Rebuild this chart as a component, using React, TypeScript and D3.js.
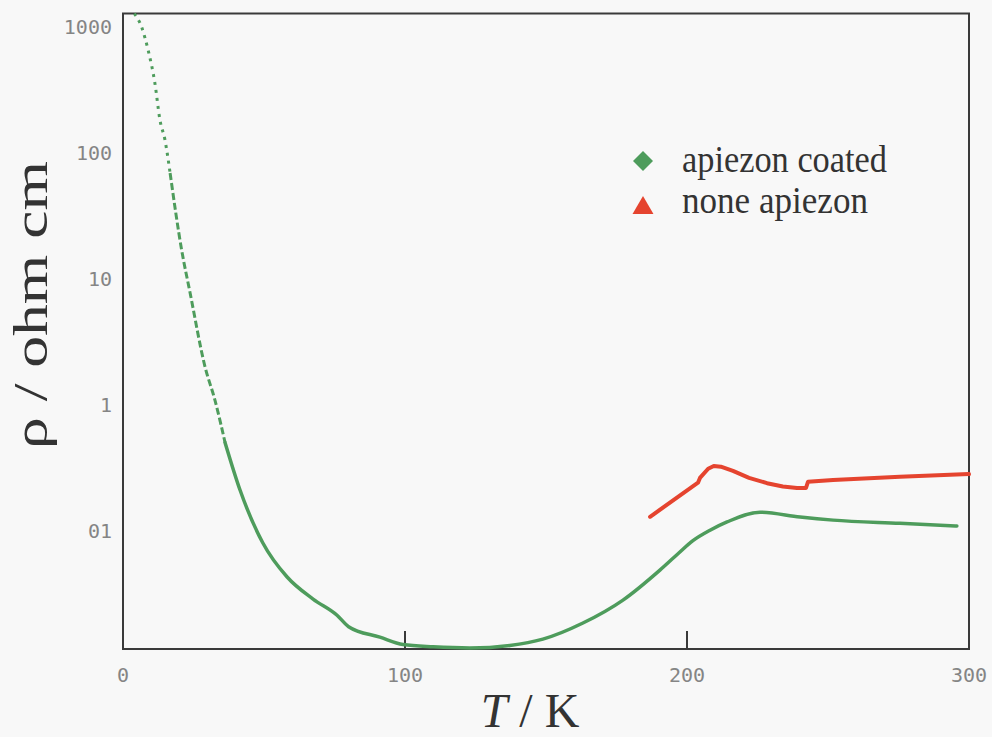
import React from "react";
import * as d3 from "d3";

const greenT = [4, 6.6, 8.9, 11.3, 13.1, 14.9, 16.7, 20.8, 23.8, 29.1, 32.6, 36.2, 41.5, 49.6, 58.2, 67.4, 75.9, 80, 91.1, 99.3, 110, 123, 137.2, 148.9, 163.1, 177.3, 190.4, 197, 202.1, 208, 214.2, 225.9, 240.1, 251.8, 275.5, 295.7];
const greenRho = [1290, 1009, 662, 362, 184, 127, 69.7, 17.0, 7.74, 2.0, 1.09, 0.5, 0.21, 0.0796, 0.0427, 0.0285, 0.0212, 0.0172, 0.0142, 0.0124, 0.0119, 0.01165, 0.0122, 0.0137, 0.0184, 0.028, 0.0485, 0.066, 0.083, 0.1, 0.117, 0.14, 0.128, 0.121, 0.1141, 0.1086];

const redT = [186.9, 203.9, 204.6, 207.5, 209.5, 212, 216.3, 222, 228.4, 234, 239, 242.2, 242.9, 251.8, 275.5, 300];
const redRho = [0.1287, 0.24, 0.262, 0.31, 0.326, 0.322, 0.298, 0.262, 0.238, 0.224, 0.218, 0.218, 0.244, 0.252, 0.268, 0.281];

const xTicks = [0, 100, 200, 300];
const yTicks = [1000, 100, 10, 1, 0.1];
const yTickLabels = ["1000", "100", "10", "1", "01"];
const legendLabels = ["apiezon coated", "none apiezon"];

const GREEN = "#4e9c5c";
const RED = "#e5442f";

export default function App() {
  const W = 992, H = 737;
  const left = 123, right = 969, top = 13.5, bottom = 649;
  const x = d3.scaleLinear().domain([0, 300]).range([left, right]);
  const y = d3.scaleLog().domain([0.01143, 1292]).range([bottom, top]);

  const smooth = d3
    .line<[number, number]>()
    .x((d) => x(d[0]))
    .y((d) => y(d[1]))
    .curve(d3.curveMonotoneX);
  const straight = d3
    .line<[number, number]>()
    .x((d) => x(d[0]))
    .y((d) => y(d[1]))
    .curve(d3.curveLinear);

  const g = greenT.map((t, i) => [t, greenRho[i]] as [number, number]);
  const r = redT.map((t, i) => [t, redRho[i]] as [number, number]);
  const gA = g.slice(0, 7);
  const gB = g.slice(6, 12);
  const gC = g.slice(11);

  return (
    <svg width={W} height={H} style={{ position: "absolute", left: 0, top: 0, background: "#f8f8f8" }}>
      <rect x={0} y={0} width={W} height={H} fill="#f8f8f8" />
      <rect x={left} y={top} width={right - left} height={bottom - top} fill="none" stroke="#3a3a3a" strokeWidth={2} />
      {xTicks.map((t) => (
        <g key={t}>
          <line x1={x(t)} x2={x(t)} y1={bottom} y2={bottom - 18} stroke="#3a3a3a" strokeWidth={2} />
          <text x={x(t)} y={682} textAnchor="middle" fontFamily="DejaVu Sans Mono" fontSize={20} fill="#858585">
            {t}
          </text>
        </g>
      ))}
      {yTicks.map((v, i) => (
        <text key={v} x={112} y={y(v) + 7} textAnchor="end" fontFamily="DejaVu Sans Mono" fontSize={20} fill="#858585">
          {yTickLabels[i]}
        </text>
      ))}
      <path d={smooth(gA) || ""} fill="none" stroke={GREEN} strokeWidth={3} strokeDasharray="3,5" />
      <path d={smooth(gB) || ""} fill="none" stroke={GREEN} strokeWidth={3} strokeDasharray="7,3" />
      <path d={smooth(gC) || ""} fill="none" stroke={GREEN} strokeWidth={3.5} strokeLinecap="round" />
      <path d={straight(r) || ""} fill="none" stroke={RED} strokeWidth={4} strokeLinecap="round" strokeLinejoin="round" />
      <path d={d3.symbol(d3.symbolSquare, 200)() || ""} transform="translate(643,161) rotate(45)" fill={GREEN} />
      <path d={d3.symbol(d3.symbolTriangle, 190)() || ""} transform="translate(643,208)" fill={RED} />
      <text x={682} y={172} fontFamily="Liberation Serif" fontSize={38} fill="#333" textLength={205} lengthAdjust="spacingAndGlyphs">
        {legendLabels[0]}
      </text>
      <text x={682} y={213} fontFamily="Liberation Serif" fontSize={38} fill="#333" textLength={186} lengthAdjust="spacingAndGlyphs">
        {legendLabels[1]}
      </text>
      <text x={530} y={727} textAnchor="middle" fontFamily="Liberation Serif" fontSize={48} fill="#333">
        <tspan fontStyle="italic">T</tspan> / K
      </text>
      <text
        transform="translate(47,305) rotate(-90)"
        textAnchor="middle"
        fontFamily="Liberation Serif"
        fontSize={49}
        fill="#333"
        textLength={288}
        lengthAdjust="spacingAndGlyphs"
      >
        ρ / ohm cm
      </text>
    </svg>
  );
}
